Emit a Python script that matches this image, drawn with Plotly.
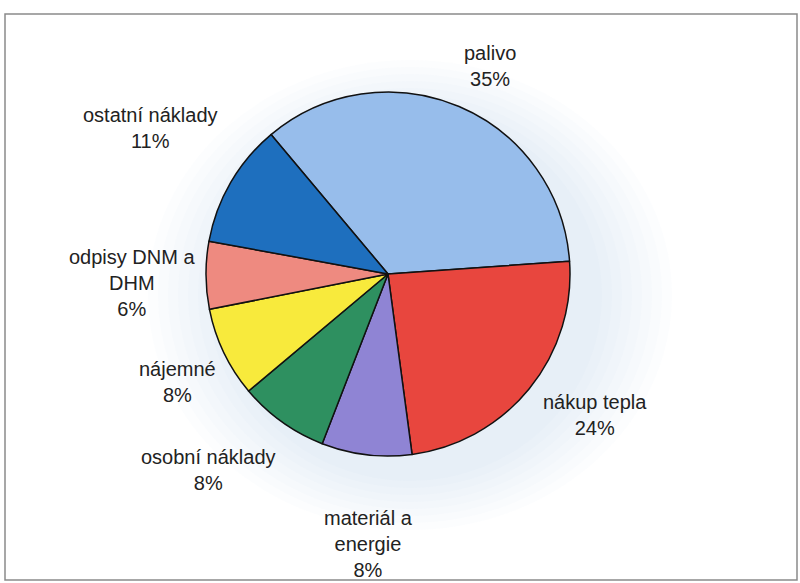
import plotly.graph_objects as go

# Data (clockwise from upper left)
categories = ["palivo", "nákup tepla", "materiál a<br>energie", "osobní náklady",
              "nájemné", "odpisy DNM a<br>DHM", "ostatní náklady"]
values = [35, 24, 8, 8, 8, 6, 11]
colors = ["#97BDEB", "#E8463E", "#8F84D4", "#2E9060", "#F8EA3C", "#EE8A80", "#1E6FBE"]

W, H = 800, 583
# label centre positions in pixels (style)
label_pos = [(490, 66), (595, 415), (368, 544), (208, 470), (177, 382), (132, 283), (150, 128)]

fig = go.Figure()
fig.add_trace(go.Pie(
    labels=[c.replace("<br>", " ") for c in categories],
    values=values,
    sort=False,
    direction="clockwise",
    rotation=-40,
    marker=dict(colors=colors, line=dict(color="#111111", width=1.5)),
    textinfo="none",
    hoverinfo="label+percent",
    showlegend=False,
    domain=dict(x=[206 / W, 570 / W], y=[1 - 456 / H, 1 - 92 / H]),
))

# soft glow behind the pie
shapes = []
cx, cy = 410, 295
for i in range(8):
    rx = 262 - i * 10
    ry = 235 - i * 7
    shapes.append(dict(type="circle", xref="paper", yref="paper",
                       x0=(cx - rx) / W, x1=(cx + rx) / W,
                       y0=1 - (cy + ry) / H, y1=1 - (cy - ry) / H,
                       fillcolor="rgba(190,212,242,0.045)", line=dict(width=0),
                       layer="below"))
# outer frame
shapes.append(dict(type="rect", xref="paper", yref="paper",
                   x0=5 / W, x1=797 / W, y0=1 - 580 / H, y1=1 - 14 / H,
                   line=dict(color="#8a8a8a", width=1.5), fillcolor="rgba(0,0,0,0)"))

total = sum(values)
annotations = []
for cat, v, (px, py) in zip(categories, values, label_pos):
    annotations.append(dict(
        x=px / W, y=1 - py / H, xref="paper", yref="paper",
        text=f"{cat}<br>{round(100 * v / total)}%",
        showarrow=False, xanchor="center", yanchor="middle",
        font=dict(family="Liberation Sans, Arial, sans-serif", size=20, color="#222222"),
    ))

fig.update_layout(
    width=W, height=H,
    margin=dict(l=0, r=0, t=0, b=0),
    paper_bgcolor="white", plot_bgcolor="white",
    shapes=shapes, annotations=annotations,
)

fig.write_html("out.html", config={"displayModeBar": False},
               post_script="document.body.style.margin='0';")
